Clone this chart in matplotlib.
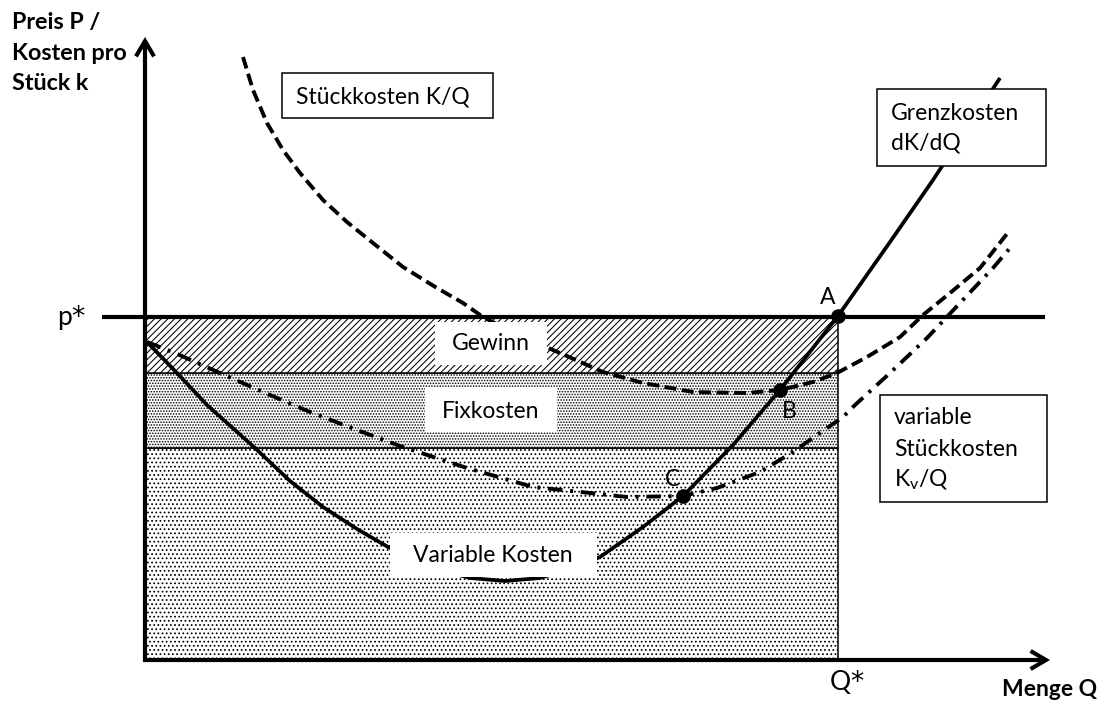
import matplotlib
matplotlib.use('Agg')
import matplotlib.pyplot as plt
from matplotlib.patches import Rectangle, FancyArrowPatch
from matplotlib.transforms import Affine2D

plt.rcParams['font.family'] = ['Lato', 'DejaVu Sans']
plt.rcParams['hatch.linewidth'] = 0.75
plt.rcParams['lines.scale_dashes'] = False
plt.rcParams['mathtext.default'] = 'regular'

# ---------------- data (Q = quantity, P = price / unit cost) ----------------
mc_q = [0.2, 3.2, 6.2, 11.0, 14.5, 17.8, 21.2, 24.3, 28.5, 32.5, 36.0, 39.5,
        42.5, 45.5, 49.8, 53.8, 58.8, 63.5, 69.3, 74.5, 78.8, 85.5]
mc_p = [31.8, 28.7, 25.5, 21.2, 17.9, 15.3, 13.1, 11.3, 9.3, 8.2, 7.9, 8.2,
        9.1, 10.3, 13.3, 16.4, 21.5, 27.0, 34.4, 41.8, 48.0, 58.2]

atc_q = [9.8, 10.8, 12.2, 13.8, 15.5, 17.8, 20.2, 22.8, 25.8, 29.2, 31.8, 33.8,
         37.5, 41.5, 45.8, 49.8, 54.8, 60.2, 63.5, 66.8, 69.2, 72.2, 75.5, 77.8,
         80.5, 83.5, 86.5]
atc_p = [60.3, 57.0, 53.7, 51.0, 48.7, 46.0, 43.8, 41.7, 39.3, 37.2, 35.7, 34.3,
         32.4, 30.7, 28.8, 27.7, 26.8, 26.7, 27.0, 27.8, 28.7, 30.3, 32.3, 34.5,
         36.7, 39.2, 43.0]

avc_q = [0.2, 3.0, 7.5, 11.8, 16.5, 21.2, 25.5, 32.2, 38.8, 44.5, 48.2, 53.8,
         57.2, 61.5, 64.8, 67.2, 69.8, 71.0, 74.5, 78.2, 81.5, 84.8, 86.5]
avc_p = [31.8, 30.7, 28.7, 26.8, 24.8, 23.0, 21.4, 19.2, 17.3, 16.7, 16.3, 16.4,
         17.2, 18.8, 20.8, 22.5, 24.3, 25.5, 28.7, 32.2, 35.7, 39.2, 41.2]

q_star = 69.3
p_star = 34.3
profit_floor = 28.7      # lower edge of the profit area
variable_top = 21.2      # upper edge of the variable-cost area

point_labels = ['A', 'B', 'C']
point_q = [69.3, 63.5, 53.8]
point_p = [34.4, 27.0, 16.4]

area_labels = ['Variable Kosten', 'Fixkosten', 'Gewinn']
area_bottoms = [0.0, variable_top, profit_floor]
area_heights = [variable_top, profit_floor - variable_top, p_star - profit_floor]
area_hatches = ['....', '......', '/////']

# ---------------- figure ----------------
fig = plt.figure(figsize=(11.02, 7.02), dpi=100)
ax = fig.add_axes([0, 0, 1, 1])
ax.set_xlim(-14.5, 95.7)
ax.set_ylim(-4.2, 66.0)
ax.axis('off')

# pixel-layout transform (top-left origin) for labels / boxes
PX = Affine2D().scale(1 / 100, -1 / 100).translate(0, 7.02) + fig.dpi_scale_trans

# stacked areas
for b, h, hat in zip(area_bottoms, area_heights, area_hatches):
    ax.bar(0, h, width=q_star, bottom=b, align='edge', facecolor='white',
           edgecolor='black', linewidth=1.1, hatch=hat, zorder=1)

# curves
ax.plot(mc_q, mc_p, color='black', lw=2.7, solid_capstyle='butt',
        solid_joinstyle='round', zorder=3)
ax.plot(atc_q, atc_p, color='black', lw=2.8, dashes=(8.6, 4.0), zorder=3)
ax.plot(avc_q, avc_p, color='black', lw=2.8, dashes=(10.5, 5.5, 2.2, 5.5), zorder=3)

# white label backgrounds inside the areas (pixel layout)
for (x0, y0, x1, y1) in [(390, 533, 597, 577), (425, 388, 557, 432), (435, 322, 547, 365)]:
    ax.add_patch(Rectangle((x0, y0), x1 - x0, y1 - y0, transform=PX,
                           facecolor='white', edgecolor='none', zorder=4))
for lab, (x, y) in zip(area_labels, [(493, 556), (491, 411), (491, 344)]):
    ax.text(x, y, lab, transform=PX, ha='center', va='center', fontsize=16.5, zorder=5)

# price line
ax.plot([-4.3, 90.0], [p_star, p_star], color='black', lw=3, solid_capstyle='butt', zorder=5)

# axes with arrows
arrow_kw = dict(arrowstyle='->,head_length=1.1,head_width=0.65', mutation_scale=10,
                color='black', lw=3, zorder=5, shrinkA=0, shrinkB=0,
                capstyle='butt', joinstyle='miter')
ax.add_patch(FancyArrowPatch((0, -0.2), (0, 62.3), **arrow_kw))
ax.add_patch(FancyArrowPatch((-0.2, 0), (90.5, 0), **arrow_kw))

# points
ax.plot(point_q, point_p, 'o', color='black', markersize=9.5, zorder=6)
for lab, (x, y) in zip(point_labels, [(828, 298), (789, 412), (672, 480)]):
    ax.text(x, y, lab, transform=PX, ha='center', va='center', fontsize=16.5, zorder=6)

# bordered boxes
for (x0, y0, x1, y1) in [(282, 73, 493, 118), (877, 89, 1046, 166), (880, 395, 1047, 502)]:
    ax.add_patch(Rectangle((x0, y0), x1 - x0, y1 - y0, transform=PX,
                           facecolor='white', edgecolor='black', linewidth=1.1, zorder=7))
box_texts = [('Stückkosten K/Q', 296, 97), ('Grenzkosten', 891, 113), ('dK/dQ', 891, 143),
             ('variable', 894, 418), ('Stückkosten', 894, 449), ('K$_{v}$/Q', 894, 480)]
for t, x, y in box_texts:
    ax.text(x, y, t, transform=PX, ha='left', va='center', fontsize=16.5, zorder=8)

# axis labels
for t, y in [('Preis P /', 23), ('Kosten pro', 53), ('Stück k', 83)]:
    ax.text(12, y, t, transform=PX, ha='left', va='center', fontsize=16.8,
            fontweight='bold', zorder=8)
ax.text(1097, 696, 'Menge Q', transform=PX, ha='right', va='baseline', fontsize=16.5,
        fontweight='bold', zorder=8)
ax.text(57, 325, 'p', transform=PX, ha='left', va='baseline', fontsize=19, zorder=8)
ax.text(71, 325, '*', transform=PX, ha='left', va='baseline', fontsize=19,
        family=['DejaVu Sans'], zorder=8)
ax.text(840, 690, 'Q', transform=PX, ha='center', va='baseline', fontsize=19, zorder=8)
ax.text(850, 690, '*', transform=PX, ha='left', va='baseline', fontsize=19,
        family=['DejaVu Sans'], zorder=8)

fig.savefig('out.png', dpi=100)
